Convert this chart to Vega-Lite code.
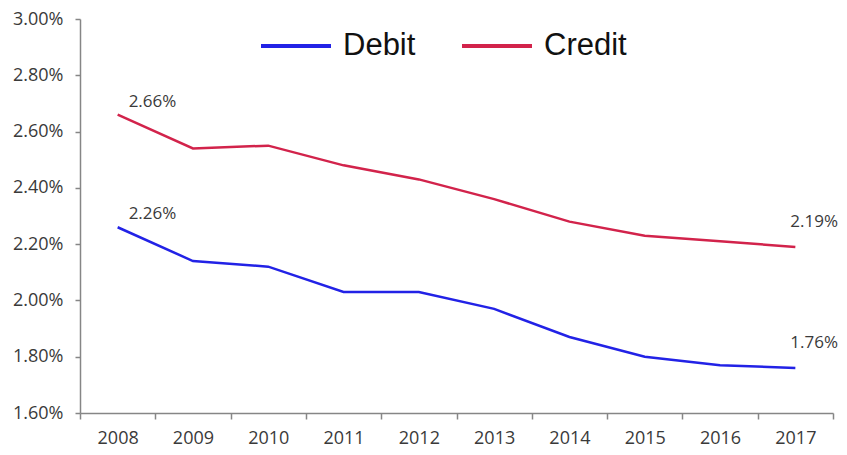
{
  "$schema": "https://vega.github.io/schema/vega-lite/v6.json",
  "width": 753,
  "height": 394,
  "autosize": "none",
  "padding": {"left": 80, "top": 19, "right": 14, "bottom": 42},
  "background": "white",
  "config": {"view": {"stroke": null}},
  "data": {
    "values": [
      {"year": "2008", "type": "Debit", "rate": 0.0226},
      {"year": "2009", "type": "Debit", "rate": 0.0214},
      {"year": "2010", "type": "Debit", "rate": 0.0212},
      {"year": "2011", "type": "Debit", "rate": 0.0203},
      {"year": "2012", "type": "Debit", "rate": 0.0203},
      {"year": "2013", "type": "Debit", "rate": 0.0197},
      {"year": "2014", "type": "Debit", "rate": 0.0187},
      {"year": "2015", "type": "Debit", "rate": 0.0180},
      {"year": "2016", "type": "Debit", "rate": 0.0177},
      {"year": "2017", "type": "Debit", "rate": 0.0176},
      {"year": "2008", "type": "Credit", "rate": 0.0266},
      {"year": "2009", "type": "Credit", "rate": 0.0254},
      {"year": "2010", "type": "Credit", "rate": 0.0255},
      {"year": "2011", "type": "Credit", "rate": 0.0248},
      {"year": "2012", "type": "Credit", "rate": 0.0243},
      {"year": "2013", "type": "Credit", "rate": 0.0236},
      {"year": "2014", "type": "Credit", "rate": 0.0228},
      {"year": "2015", "type": "Credit", "rate": 0.0223},
      {"year": "2016", "type": "Credit", "rate": 0.0221},
      {"year": "2017", "type": "Credit", "rate": 0.0219}
    ]
  },
  "encoding": {
    "x": {
      "field": "year", "type": "ordinal",
      "scale": {"type": "band", "paddingInner": 0, "paddingOuter": 0},
      "axis": {
        "title": null, "labelAngle": 0, "tickBand": "extent",
        "domainColor": "#868686", "tickColor": "#868686", "domainWidth": 1.5, "tickWidth": 1.5,
        "tickSize": 6, "labelPadding": 10,
        "labelFont": "Open Sans", "labelFontSize": 18, "labelColor": "#3a3a3a", "grid": false
      }
    },
    "y": {
      "field": "rate", "type": "quantitative",
      "scale": {"domain": [0.016, 0.030], "nice": false, "zero": false},
      "axis": {
        "title": null, "format": ".2%",
        "values": [0.016, 0.018, 0.020, 0.022, 0.024, 0.026, 0.028, 0.030],
        "domainColor": "#868686", "tickColor": "#868686", "domainWidth": 1.5, "tickWidth": 1.5,
        "tickSize": 5, "labelPadding": 12, "grid": false,
        "labelFont": "Open Sans", "labelFontSize": 18, "labelColor": "#3a3a3a"
      }
    }
  },
  "layer": [
    {
      "mark": {"type": "line", "strokeWidth": 2.5},
      "encoding": {
        "color": {
          "field": "type", "type": "nominal",
          "scale": {"domain": ["Debit", "Credit"], "range": ["#2222e6", "#d2234b"]},
          "legend": {
            "title": null, "orient": "none", "direction": "horizontal",
            "legendX": 179, "legendY": -10, "padding": 0,
            "symbolType": "stroke", "symbolSize": 4900, "symbolStrokeWidth": 4,
            "labelFont": "Liberation Sans", "labelFontSize": 31, "labelColor": "#111111",
            "labelOffset": 10, "columnPadding": 38, "labelLimit": 200,
            "encode": {
              "symbols": {
                "enter": {"stroke": {"signal": "datum.value === 'Debit' ? '#4a86d8' : '#d22010'"}},
                "update": {"stroke": {"signal": "datum.value === 'Debit' ? '#4a86d8' : '#d22010'"}}
              }
            }
          }
        }
      }
    },
    {
      "transform": [{"filter": "datum.year === '2008'"}],
      "mark": {"type": "text", "align": "left", "baseline": "bottom", "dx": 11, "dy": -4, "font": "Open Sans", "fontSize": 17, "color": "#3a3a3a"},
      "encoding": {"text": {"field": "rate", "type": "quantitative", "format": ".2%"}}
    },
    {
      "transform": [{"filter": "datum.year === '2017'"}],
      "mark": {"type": "text", "align": "left", "baseline": "bottom", "dx": -5, "dy": -16, "font": "Open Sans", "fontSize": 17, "color": "#3a3a3a"},
      "encoding": {"text": {"field": "rate", "type": "quantitative", "format": ".2%"}}
    }
  ]
}
